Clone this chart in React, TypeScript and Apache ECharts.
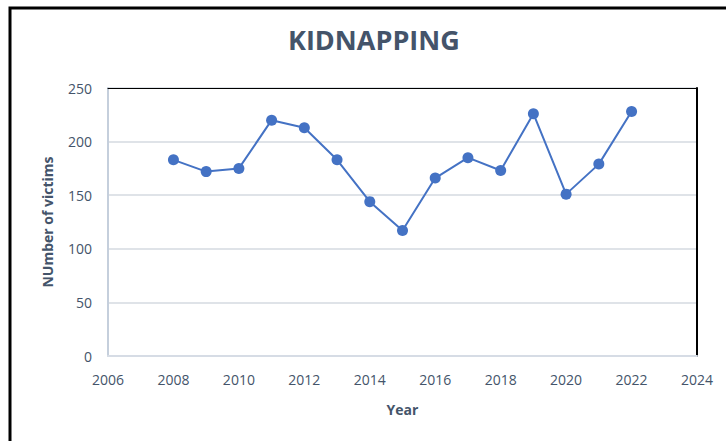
import React, { useEffect, useRef } from "react";
import * as echarts from "echarts";

const years = [2008, 2009, 2010, 2011, 2012, 2013, 2014, 2015, 2016, 2017, 2018, 2019, 2020, 2021, 2022];
const victims = [183, 172, 175, 220, 213, 183, 144, 117, 166, 185, 173, 226, 151, 179, 228];
const title = "KIDNAPPING";
const xName = "Year";
const yName = "NUmber of victims";

export default function App() {
  const ref = useRef<HTMLDivElement>(null);
  useEffect(() => {
    document.body.style.margin = "0";
    const chart = echarts.init(ref.current!, null, { renderer: "svg" });
    const font = "'Open Sans', 'Noto Sans', sans-serif";
    const labelColor = "#44546a";
    chart.setOption({
      animation: false,
      backgroundColor: "#fff",
      title: {
        text: title,
        left: 283,
        top: 21,
        textStyle: { fontFamily: font, fontSize: 27, fontWeight: "bold", color: "#44546a" },
      },
      graphic: [
        {
          type: "rect",
          shape: { x: 10, y: 8, width: 900, height: 700 },
          style: { fill: "none", stroke: "#000", lineWidth: 3 },
          silent: true,
        },
      ],
      grid: { left: 108, right: 29, top: 88, bottom: 85 },
      xAxis: [
        {
          type: "value",
          min: 2006,
          max: 2024,
          interval: 2,
          name: xName,
          nameLocation: "middle",
          nameGap: 46,
          nameTextStyle: { fontFamily: font, fontSize: 14, fontWeight: "bold", color: labelColor },
          axisLine: { show: true, lineStyle: { color: "#d6dce5", width: 2 } },
          axisTick: { show: false },
          splitLine: { show: false },
          axisLabel: { fontFamily: font, fontSize: 14, color: labelColor, margin: 16, formatter: (v: number) => String(v) },
        },
        {
          type: "value",
          position: "top",
          min: 2006,
          max: 2024,
          interval: 2,
          axisLine: { show: true, onZero: false, lineStyle: { color: "#000", width: 1 } },
          axisTick: { show: false },
          splitLine: { show: false },
          axisLabel: { show: false },
        },
      ],
      yAxis: [
        {
          type: "value",
          min: 0,
          max: 250,
          interval: 50,
          name: yName,
          nameLocation: "middle",
          nameGap: 54,
          nameTextStyle: { fontFamily: font, fontSize: 14, fontWeight: "bold", color: labelColor },
          axisLine: { show: true, lineStyle: { color: "#c5cfdc", width: 2 } },
          axisTick: { show: false },
          splitLine: { show: true, lineStyle: { color: "#dfe3e8", width: 2 } },
          axisLabel: { fontFamily: font, fontSize: 14, color: labelColor, margin: 16 },
        },
        {
          type: "value",
          position: "right",
          min: 0,
          max: 250,
          interval: 50,
          axisLine: { show: true, onZero: false, lineStyle: { color: "#000", width: 2 } },
          axisTick: { show: false },
          splitLine: { show: false },
          axisLabel: { show: false },
        },
      ],
      series: [
        {
          type: "line",
          data: years.map((y, i) => [y, victims[i]]),
          symbol: "circle",
          symbolSize: 11,
          itemStyle: { color: "#4472c4" },
          lineStyle: { color: "#4472c4", width: 2 },
        },
      ],
    });
    return () => chart.dispose();
  }, []);
  return <div ref={ref} style={{ position: "absolute", left: 0, top: 0, width: 726, height: 441 }} />;
}
